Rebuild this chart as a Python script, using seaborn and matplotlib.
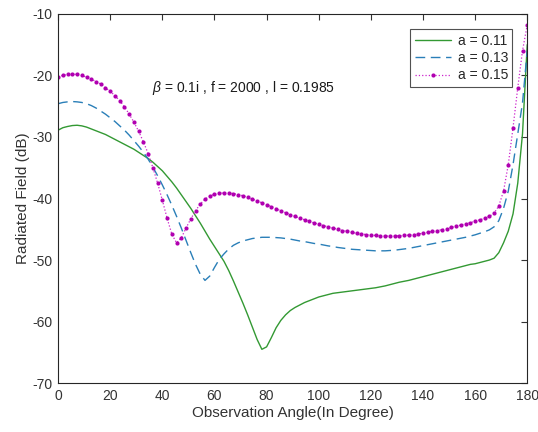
import numpy as np
import pandas as pd
import matplotlib
matplotlib.use('Agg')
import matplotlib.pyplot as plt
import seaborn as sns

# angulos de observacao (100 pontos de 0 a 180)
angle = np.linspace(0, 180, 100)

field_011 = [-28.9, -28.5, -28.3, -28.15, -28.1, -28.2, -28.4, -28.7, -29.0, -29.3,
             -29.6, -30.0, -30.4, -30.8, -31.2, -31.6, -32.0, -32.5, -33.0, -33.5,
             -34.1, -34.8, -35.5, -36.4, -37.3, -38.3, -39.4, -40.5, -41.6, -42.8,
             -44.0, -45.3, -46.6, -47.8, -49.0, -50.2, -51.7, -53.4, -55.2, -57.0,
             -58.9, -60.9, -62.9, -64.5, -64.1, -62.6, -61.0, -59.8, -58.9, -58.2,
             -57.7, -57.3, -56.9, -56.6, -56.3, -56.0, -55.8, -55.6, -55.4, -55.3,
             -55.2, -55.1, -55.0, -54.9, -54.8, -54.7, -54.6, -54.5, -54.35, -54.2,
             -54.0, -53.8, -53.6, -53.45, -53.3, -53.1, -52.9, -52.7, -52.5, -52.3,
             -52.1, -51.9, -51.7, -51.5, -51.3, -51.1, -50.9, -50.7, -50.6, -50.4,
             -50.2, -50.0, -49.7, -48.8, -47.2, -45.3, -42.5, -37.5, -29.5, -15.0]

field_013 = [-24.6, -24.4, -24.3, -24.25, -24.3, -24.4, -24.6, -24.9, -25.3, -25.8,
             -26.3, -26.9, -27.5, -28.2, -28.9, -29.7, -30.6, -31.5, -32.5, -33.6,
             -34.9, -36.3, -37.8, -39.4, -41.1, -42.9, -44.8, -46.8, -48.8, -50.7,
             -52.3, -53.3, -52.6, -51.2, -49.9, -49.0, -48.2, -47.6, -47.2, -46.9,
             -46.7, -46.5, -46.4, -46.3, -46.3, -46.3, -46.35, -46.4, -46.5, -46.6,
             -46.75, -46.9, -47.0, -47.15, -47.3, -47.4, -47.55, -47.7, -47.8, -47.95,
             -48.05, -48.15, -48.25, -48.3, -48.35, -48.4, -48.45, -48.5, -48.5, -48.5,
             -48.45, -48.4, -48.3, -48.2, -48.1, -47.95, -47.8, -47.65, -47.5, -47.35,
             -47.2, -47.05, -46.9, -46.75, -46.6, -46.45, -46.3, -46.1, -45.9, -45.65,
             -45.4, -45.1, -44.6, -43.6, -41.6, -38.8, -34.5, -29.5, -24.5, -16.0]

field_015 = [-20.2, -20.0, -19.85, -19.8, -19.85, -20.0, -20.3, -20.6, -21.0, -21.4,
             -22.0, -22.6, -23.3, -24.1, -25.1, -26.3, -27.6, -29.1, -30.8, -32.7,
             -35.0, -37.5, -40.3, -43.2, -45.8, -47.2, -46.4, -44.8, -43.3, -42.0,
             -40.9, -40.1, -39.6, -39.3, -39.15, -39.1, -39.1, -39.2, -39.35, -39.55,
             -39.8, -40.1, -40.4, -40.7, -41.0, -41.3, -41.65, -42.0, -42.3, -42.6,
             -42.9, -43.2, -43.45, -43.7, -43.95, -44.2, -44.4, -44.6, -44.8, -45.0,
             -45.2, -45.35, -45.5, -45.65, -45.75, -45.85, -45.95, -46.0, -46.05, -46.1,
             -46.1, -46.1, -46.05, -46.0, -45.95, -45.85, -45.75, -45.65, -45.5, -45.35,
             -45.2, -45.05, -44.9, -44.7, -44.5, -44.3, -44.1, -43.9, -43.7, -43.45,
             -43.2, -42.9, -42.4, -41.2, -38.8, -34.5, -28.5, -22.0, -16.0, -11.8]

xticks = list(range(0, 181, 20))
yticks = list(range(-70, -9, 10))

df = pd.DataFrame({'angle': angle, 'a011': field_011, 'a013': field_013, 'a015': field_015})

sns.set_style('white')
plt.rcParams['font.family'] = ['Liberation Sans', 'DejaVu Sans']
plt.rcParams['mathtext.fontset'] = 'custom'
plt.rcParams['mathtext.it'] = 'Liberation Sans:italic'
plt.rcParams['axes.unicode_minus'] = False

fig = plt.figure(figsize=(5.38, 4.32), dpi=100)
ax = fig.add_axes([0.108, 0.113, 0.872, 0.855])

sns.lineplot(data=df, x='angle', y='a011', ax=ax, color='#339933', linewidth=1.0,
             label='a = 0.11')
sns.lineplot(data=df, x='angle', y='a013', ax=ax, color='#2a7fb8', linewidth=1.0,
             linestyle=(0, (7, 4)), label='a = 0.13')
sns.lineplot(data=df, x='angle', y='a015', ax=ax, color='#cc22cc', linewidth=0.9,
             linestyle=':', marker='.', markersize=6, markeredgewidth=0,
             markerfacecolor='#b000b0', label='a = 0.15')

ax.set_xlim(0, 180)
ax.set_ylim(-70, -10)
ax.set_xticks(xticks)
ax.set_yticks(yticks)
ax.tick_params(direction='in', top=True, right=True, length=4, width=0.8,
               labelsize=10, colors='#333333', pad=4)
for s in ax.spines.values():
    s.set_visible(True)
    s.set_color('#262626')
    s.set_linewidth(0.8)

ax.set_xlabel('Observation Angle(In Degree)', fontsize=11, color='#333333', labelpad=2)
ax.set_ylabel('Radiated Field (dB)', fontsize=11, color='#333333', labelpad=2)

ax.text(36, -22.1, r'$\beta$ = 0.1i , f = 2000 , l = 0.1985', fontsize=10,
        color='#1a1a1a', va='center', ha='left')

leg = ax.legend(loc='upper right', bbox_to_anchor=(0.968, 0.958), fontsize=10,
                frameon=True, fancybox=False, handlelength=2.6, borderpad=0.3,
                labelspacing=0.25, handletextpad=0.5, borderaxespad=0)
leg.get_frame().set_edgecolor('#262626')
leg.get_frame().set_linewidth(0.8)

fig.savefig('out.png', dpi=100)
